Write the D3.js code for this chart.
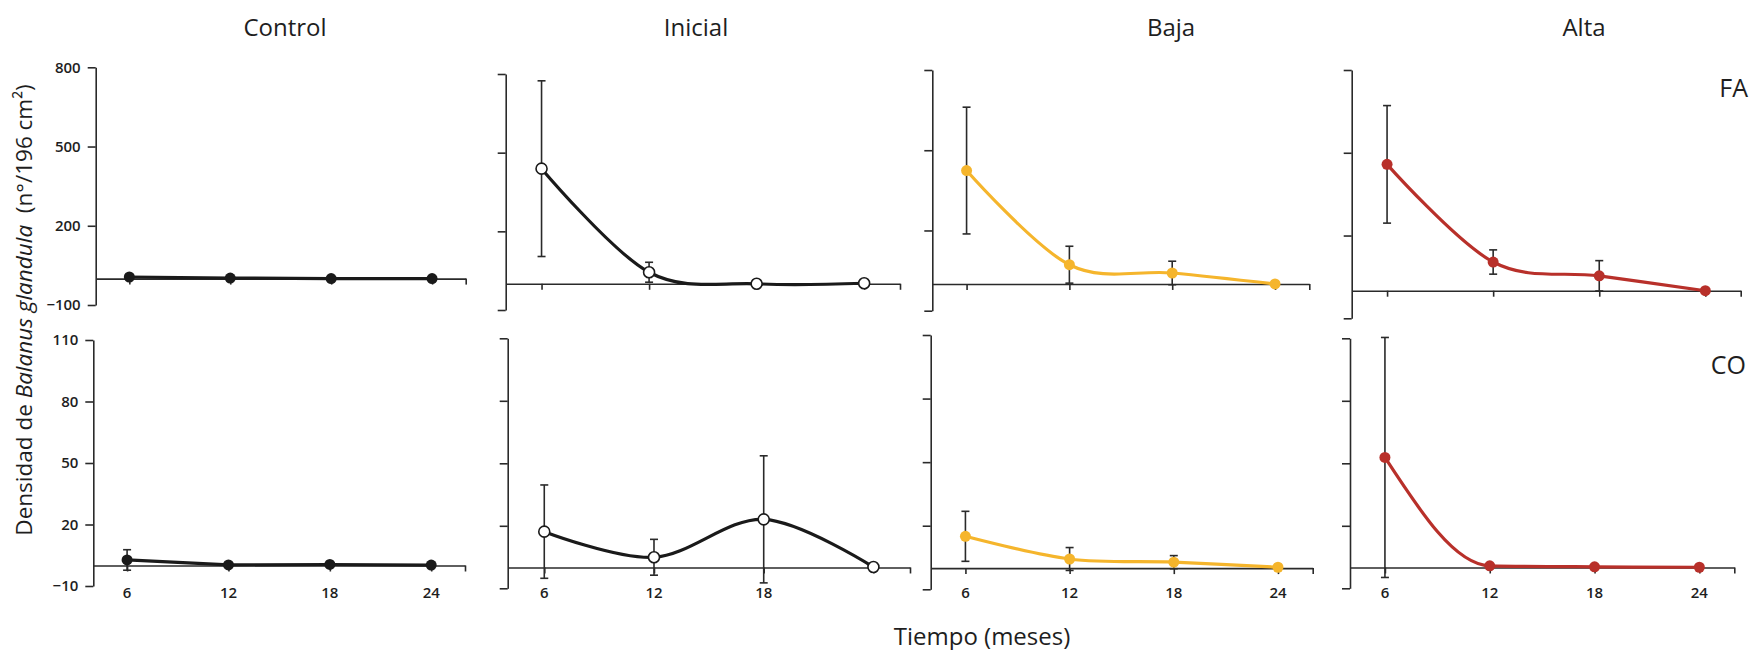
<!DOCTYPE html>
<html>
<head>
<meta charset="utf-8">
<script src="https://cdn.jsdelivr.net/npm/d3@7"></script>
<style>
  body { margin: 0; background: #fff; }
  svg text { font-family: "Open Sans", sans-serif; fill: #1e1e1e; }
</style>
</head>
<body>
<svg id="chart" width="1752" height="650"></svg>
<script>
// data
const months = [6, 12, 18, 24];
const treatments = ["Control", "Inicial", "Baja", "Alta"];
const rowNames = ["FA", "CO"];
const faTicks = [-100, 200, 500, 800];
const coTicks = [-10, 20, 50, 80, 110];

const controlFA = [6, 2, 0, 0];
const controlFAerr = [0, 0, 0, 0];
const inicialFA = [439, 44, 0, 2];
const inicialFAerr = [335, 38, 0, 0];
const bajaFA = [424, 72, 41, 0];
const bajaFAerr = [237, 69, 44, 0];
const altaFA = [458, 104, 54, 0];
const altaFAerr = [213, 44, 55, 0];

const controlCO = [2.7, 0.3, 0.5, 0.2];
const controlCOerr = [5, 0, 0, 0];
const inicialCO = [17.2, 4.9, 23.1, 0.2];
const inicialCOerr = [22.4, 8.6, 30.5, 0];
const bajaCO = [15.0, 4.3, 2.8, 0.4];
const bajaCOerr = [11.8, 5.4, 3.1, 0];
const altaCO = [52.8, 0.8, 0.3, 0.1];
const altaCOerr = [57.6, 0, 0, 0];

// x tick labels shown under each bottom panel
const xLabels = [[6, 12, 18, 24], [6, 12, 18], [6, 12, 18, 24], [6, 12, 18, 24]];

const svg = d3.select("#chart");

// style per treatment
const styles = {
  Control: { line: "#1a1a1a", fill: "#1a1a1a", stroke: "none" },
  Inicial: { line: "#1a1a1a", fill: "#ffffff", stroke: "#1a1a1a" },
  Baja: { line: "#f5b52c", fill: "#f5b52c", stroke: "none" },
  Alta: { line: "#b8302a", fill: "#b8302a", stroke: "none" }
};

// panel frames: y-axis x, x-axis end, top tick y, bottom tick y
const panels = [
  { t: "Control", r: "FA", v: controlFA, e: controlFAerr, curve: d3.curveLinear, x0: 95.7, x1: 465.7, y0: 67.3, y1: 305 },
  { t: "Inicial", r: "FA", v: inicialFA, e: inicialFAerr, curve: d3.curveCardinal.tension(0), x0: 505.7, x1: 900, y0: 74, y1: 310 },
  { t: "Baja", r: "FA", v: bajaFA, e: bajaFAerr, curve: d3.curveCardinal.tension(0), x0: 932.3, x1: 1309.3, y0: 70, y1: 310.7 },
  { t: "Alta", r: "FA", v: altaFA, e: altaFAerr, curve: d3.curveCardinal.tension(0), x0: 1351.7, x1: 1740.7, y0: 70, y1: 318.3 },
  { t: "Control", r: "CO", v: controlCO, e: controlCOerr, curve: d3.curveLinear, x0: 93.3, x1: 465, y0: 340, y1: 586 },
  { t: "Inicial", r: "CO", v: inicialCO, e: inicialCOerr, curve: d3.curveCardinal.tension(0), x0: 507.7, x1: 910, y0: 338.3, y1: 588.3 },
  { t: "Baja", r: "CO", v: bajaCO, e: bajaCOerr, curve: d3.curveCardinal.tension(0), x0: 930.7, x1: 1312.7, y0: 335, y1: 589.3 },
  { t: "Alta", r: "CO", v: altaCO, e: altaCOerr, curve: d3.curveMonotoneX, x0: 1350, x1: 1734.3, y0: 338.3, y1: 588.3 }
];

panels.forEach(function (p) {
  const col = treatments.indexOf(p.t);
  const st = styles[p.t];
  const x = d3.scaleLinear().domain([4, 26]).range([p.x0, p.x1]);
  const y = d3.scaleLinear()
    .domain(p.r == "FA" ? [-100, 800] : [-10, 110])
    .range([p.y1, p.y0]);
  const g = svg.append("g");

  // y axis
  const yAxis = d3.axisLeft(y)
    .tickValues(p.r == "FA" ? faTicks : coTicks)
    .tickSize(8)
    .tickSizeOuter(0)
    .tickPadding(7)
    .tickFormat(d3.format("d"));
  const ya = g.append("g").attr("transform", "translate(" + p.x0 + ",0)").call(yAxis);

  // x axis on zero
  const xAxis = d3.axisBottom(x)
    .tickValues(months.concat([26]))
    .tickSize(6)
    .tickSizeOuter(0);
  const xa = g.append("g").attr("transform", "translate(0," + y(0) + ")").call(xAxis);
  xa.selectAll(".tick text").remove();
  if (col > 0) ya.selectAll(".tick text").remove();

  [ya, xa].forEach(function (a) {
    a.select(".domain").attr("stroke", "#2a2a2a").attr("stroke-width", 1.6);
    a.selectAll(".tick line").attr("stroke", "#2a2a2a").attr("stroke-width", 1.6);
  });
  ya.selectAll(".tick text")
    .style("font-size", "15px")
    .style("font-weight", 600)
    .attr("fill", "#333");

  if (p.r == "CO") {
    g.selectAll(".xlab")
      .data(xLabels[col])
      .enter().append("text")
      .attr("x", d => x(d))
      .attr("y", 598)
      .attr("text-anchor", "middle")
      .style("font-size", "15px")
      .style("font-weight", 600)
      .attr("fill", "#333")
      .text(d => d);
  }

  const pts = months.map((m, i) => ({ m: m, v: p.v[i], e: p.e[i] }));

  // error bars
  const eb = g.selectAll(".err")
    .data(pts.filter(d => d.e > 0))
    .enter().append("g")
    .attr("stroke", "#2a2a2a")
    .attr("stroke-width", 1.6);
  eb.append("line")
    .attr("x1", d => x(d.m)).attr("x2", d => x(d.m))
    .attr("y1", d => y(d.v - d.e)).attr("y2", d => y(d.v + d.e));
  eb.append("line")
    .attr("x1", d => x(d.m) - 4).attr("x2", d => x(d.m) + 4)
    .attr("y1", d => y(d.v + d.e)).attr("y2", d => y(d.v + d.e));
  eb.append("line")
    .attr("x1", d => x(d.m) - 4).attr("x2", d => x(d.m) + 4)
    .attr("y1", d => y(d.v - d.e)).attr("y2", d => y(d.v - d.e));

  const line = d3.line()
    .x(d => x(d.m))
    .y(d => y(d.v))
    .curve(p.curve);

  g.append("path")
    .datum(pts)
    .attr("d", line)
    .attr("fill", "none")
    .attr("stroke", st.line)
    .attr("stroke-width", 3.2);

  g.selectAll(".pt")
    .data(pts)
    .enter().append("circle")
    .attr("cx", d => x(d.m))
    .attr("cy", d => y(d.v))
    .attr("r", 5.5)
    .attr("fill", st.fill)
    .attr("stroke", st.stroke)
    .attr("stroke-width", 1.6);
});

// column titles
const titleX = [285, 696, 1171, 1584];
svg.selectAll(".title")
  .data(treatments)
  .enter().append("text")
  .attr("x", (d, i) => titleX[i])
  .attr("y", 36)
  .attr("text-anchor", "middle")
  .style("font-size", "24px")
  .text(d => d);

// row labels
svg.append("text").attr("x", 1748).attr("y", 97).attr("text-anchor", "end")
  .style("font-size", "25px").text(rowNames[0]);
svg.append("text").attr("x", 1746).attr("y", 374).attr("text-anchor", "end")
  .style("font-size", "25px").text(rowNames[1]);

// axis titles
const yl = svg.append("text")
  .attr("transform", "translate(32,310) rotate(-90)")
  .attr("text-anchor", "middle")
  .style("font-size", "22.5px");
yl.append("tspan").text("Densidad de ");
yl.append("tspan").style("font-style", "italic").text("Balanus glandula");
yl.append("tspan").text("\u00a0 (n°/196 cm²)");

svg.append("text")
  .attr("x", 982)
  .attr("y", 645)
  .attr("text-anchor", "middle")
  .style("font-size", "24px")
  .text("Tiempo (meses)");
</script>
</body>
</html>
